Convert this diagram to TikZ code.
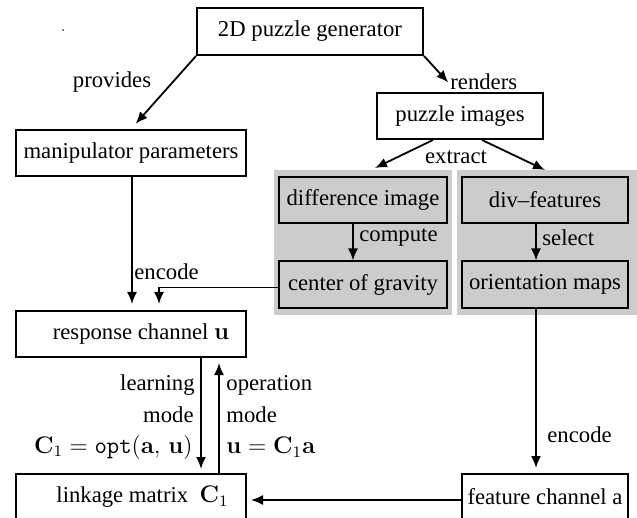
\documentclass[tikz,border=0pt]{standalone}
\usepackage[no-math]{fontspec}
\setmainfont{Liberation Serif}
\usetikzlibrary{arrows.meta}
\definecolor{graybg}{HTML}{CCCCCC}
\newcommand\bigmath[1]{{\fontsize{12}{14}\selectfont$#1$}}
\begin{document}
\begin{tikzpicture}[x=0.5pt,y=-0.5pt,
  txt/.style={font=\fontsize{11.35}{13}\selectfont},
  box/.style={txt,draw,line width=1pt,minimum height=23pt,inner sep=0pt},
  gbox/.style={box,fill=graybg},
  lbl/.style={txt,inner sep=0pt},
  arr/.style={-{Latex[length=6pt,width=5pt]},line width=0.9pt}]
\clip (0,0) rectangle (637,518);
\fill[white] (0,0) rectangle (637,518);
\fill (63,30) circle (0.4pt);
% boxes
\node[box,minimum width=113pt,minimum height=23.5pt] (gen) at (310,31.5) {2D puzzle generator};
\node[box,minimum width=115pt] (manip) at (131,153) {manipulator parameters};
\node[box,minimum width=83pt] (puz) at (460,116) {puzzle images};
\fill[graybg] (274,170) rectangle (452,315);
\fill[graybg] (457,170) rectangle (637,315);
\node[gbox,minimum width=84pt] (diff) at (363,200) {difference image};
\node[gbox,minimum width=84pt] (cog) at (363,284.5) {center of gravity};
\node[gbox,minimum width=83pt] (divf) at (545,200) {div–features};
\node[gbox,minimum width=83pt] (orient) at (545,284.5) {orientation maps};
\node[box,minimum width=115pt] (resp) at (131,334) {\hspace*{10pt}response channel \bigmath{\mathbf{u}}};
\node[box,minimum width=115pt] (link) at (131,497) {\hspace*{11.5pt}linkage matrix\ \ \bigmath{\mathbf{C}_1}};
\node[box,minimum width=83pt] (feat) at (545,497) {feature channel a};
% arrows
\draw[arr,shorten >=3.5pt] (gen.south west) -- (manip.north);
\node[lbl] (lprov) at (112,82) {provides};
\draw[arr,shorten >=6.5pt] (gen.south east) -- ([xshift=-1.5pt]puz.north);
\node[lbl,anchor=west] (lrend) at (450,82) {renders};
\draw[arr] ([xshift=-13.5pt]puz.south) -- ([xshift=6pt,yshift=4pt]diff.north);
\draw[arr] ([xshift=11pt]puz.south) -- ([yshift=3pt]divf.north);
\node[lbl] (lext) at (456,157) {extract};
\draw[arr] ([xshift=-5pt]diff.south) -- ([xshift=-5pt]cog.north);
\node[lbl,anchor=west] (lcomp) at (359,238) {compute};
\draw[arr] ([xshift=-4.5pt]divf.south) -- ([xshift=-4.5pt]orient.north);
\node[lbl,anchor=west] (lsel) at (542,238) {select};
\draw[arr,shorten >=2.5pt] ([xshift=-4.5pt]orient.south) -- ([xshift=-4.5pt]feat.north);
\node[lbl,anchor=west] (lenc2) at (547,435) {encode};
\draw[arr,shorten >=3pt] ([xshift=0.5pt]manip.south) -- ([xshift=0.5pt]resp.north);
\node[lbl,anchor=west] (lenc1) at (134,272) {encode};
\draw[arr,shorten >=3pt] ([yshift=-1.5pt]cog.west) -| ([xshift=14pt]resp.north);
\draw[arr,shorten >=2pt] ([xshift=35pt]resp.south) -- ([xshift=35pt]link.north);
\draw[arr,shorten >=2.5pt] ([xshift=44pt]link.north) -- ([xshift=44pt]resp.south);
\node[lbl,anchor=east] (ll1) at (195,385) {learning};
\node[lbl,anchor=east] (ll2) at (194,415) {mode};
\node[lbl,anchor=east] (ll3) at (193,447) {\bigmath{\mathbf{C}_1=\mathtt{opt}(\mathbf{a},\,\mathbf{u})}};
\node[lbl,anchor=west] (lo1) at (226,385) {operation};
\node[lbl,anchor=west] (lo2) at (226,415) {mode};
\node[lbl,anchor=west] (lo3) at (226,447) {\bigmath{\mathbf{u}=\mathbf{C}_1\mathbf{a}}};
\draw[arr,shorten >=2pt] ([yshift=-1.5pt]feat.west) -- ([yshift=-1.5pt]link.east);
\end{tikzpicture}
\end{document}
